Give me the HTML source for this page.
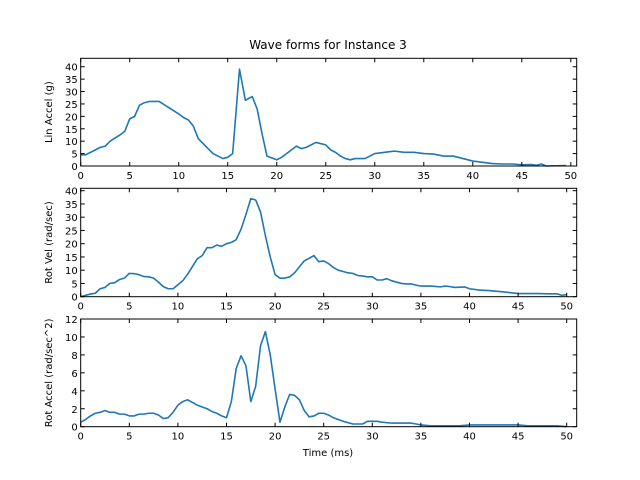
<!DOCTYPE html>
<html><head><meta charset="utf-8"><style>
body{margin:0;background:#fff}
svg{display:block;font-family:"DejaVu Sans","Liberation Sans",sans-serif}
</style></head><body>
<svg id="fig" width="640" height="480" viewBox="0 0 640 480">
<text x="328" y="49" font-size="12" text-anchor="middle">Wave forms for Instance 3</text>
<text x="328" y="456" font-size="10" text-anchor="middle">Time (ms)</text>
</svg>
<script>
const linT=[0,0.5,1,2,2.5,3,4,4.5,5,5.5,6,6.5,7,8,9,10,10.5,11,11.5,12,13,13.5,14,14.5,15,15.5,16.2,16.8,17.5,18,18.5,19,20,20.5,21,22,22.5,23,24,25,25.5,26,26.5,27,27.5,28,29,30,31,32,33,34,35,36,37,38,39,40,41,42,43,44,45,46,46.5,47,47.5,49.5];
const linV=[4.5,4.5,5.5,7.5,8,10,12.5,14,19,20,24.5,25.5,26,26,23.5,21,19.5,18.5,16,11,7,5,4,3,3.5,5,39,26.5,28,23,13,4,2.5,3.5,5,8,7,7.5,9.5,8.5,6.5,5.5,4,3,2.5,3,3,5,5.5,6,5.5,5.5,5,4.8,4,4,3,2,1.5,1,0.8,0.8,0.5,0.6,0.3,0.8,0,0.2];
const velT=[0,1,1.5,2,2.5,3,3.5,4,4.5,5,5.5,6,6.5,7,7.5,8,8.5,9,9.5,10,10.5,11,12,12.5,13,13.5,14,14.5,15,15.5,16,16.5,17,17.5,18,18.5,19,19.5,20,20.5,21,21.5,22,23,24,24.5,25,25.5,26,26.5,27,27.5,28,28.5,29,29.5,30,30.5,31,31.5,32,33,33.5,34,35,36,37,37.5,38,38.5,39.5,40,41,42,43,44,45,46,47,48,49,49.5,50];
const velV=[0,1,1.3,3,3.5,5,5.3,6.5,7,8.8,8.7,8.3,7.6,7.5,7,5.5,3.8,3,3,4.5,6,8.5,14.3,15.5,18.5,18.5,19.5,19,20,20.5,21.5,25.5,31,37,36.5,32,23,15,8.3,7,7,7.5,9,13.5,15.5,13.2,13.5,12.5,11,10,9.5,9,8.8,8,7.8,7.5,7.5,6.3,6.3,6.8,6,5,4.8,4.8,4,4,3.7,4,3.8,3.5,3.7,3,2.5,2.3,2,1.6,1.2,1.2,1.2,1.1,1.1,0.5,0.8];
const accT=[0,0.5,1,1.5,2,2.5,3,3.5,4,4.5,5,5.5,6,6.5,7,7.5,8,8.5,9,9.5,10,10.5,11,11.5,12,12.5,13,13.5,14,14.5,15,15.5,16,16.5,17,17.5,18,18.5,19,19.5,20,20.5,21,21.5,22,22.5,23,23.5,24,24.5,25,25.5,26,26.5,27,28,29,29.5,30,30.5,31,32,33,34,35,36,37,38,39,40,41,42,43,44,45,46,47,48,49,50];
const accV=[0.5,0.8,1.2,1.5,1.6,1.8,1.6,1.6,1.4,1.4,1.2,1.2,1.4,1.4,1.5,1.5,1.3,0.9,1.0,1.6,2.4,2.8,3.0,2.7,2.4,2.2,2.0,1.7,1.5,1.2,1.0,2.8,6.5,7.9,6.8,2.8,4.5,9,10.6,8,4.2,0.5,2.2,3.6,3.5,3.0,1.8,1.1,1.2,1.5,1.5,1.3,1.0,0.8,0.6,0.3,0.3,0.6,0.6,0.6,0.5,0.4,0.4,0.4,0.2,0.1,0.1,0.1,0.1,0.2,0.2,0.2,0.2,0.2,0.2,0.1,0.1,0.1,0.1,0];
const xTicks=[0,5,10,15,20,25,30,35,40,45,50];
const linTicks=[0,5,10,15,20,25,30,35,40];
const velTicks=[0,5,10,15,20,25,30,35,40];
const accTicks=[0,2,4,6,8,10,12];

const NS="http://www.w3.org/2000/svg";
const svg=document.getElementById('fig');
function mk(tag,attrs,parent){const e=document.createElementNS(NS,tag);for(const k in attrs)e.setAttribute(k,attrs[k]);(parent||svg).appendChild(e);return e;}
const L=80.7,R=576.7;
function panel(name,top,bot,xmax,ymax,T,V,yt,label){
  const g=mk('g',{});
  
  
  const sx=t=>L+(t/xmax)*(R-L);
  const sy=v=>bot-(v/ymax)*(bot-top);
  const d=T.map((t,i)=>(i?'L':'M')+sx(t).toFixed(2)+' '+sy(V[i]).toFixed(2)).join(' ');
  const p=mk('path',{d:d,fill:'none',stroke:'#1f77b4','stroke-width':1.6,'stroke-linejoin':'round'},g);
  
  
  const fr=mk('rect',{x:L,y:top,width:R-L,height:bot-top,fill:'none',stroke:'#000','stroke-width':1},g);
  
  
  xTicks.forEach(t=>{const x=sx(t);
    mk('line',{x1:x,x2:x,y1:bot,y2:bot-4,stroke:'#000'},g);
    mk('line',{x1:x,x2:x,y1:top,y2:top+4,stroke:'#000'},g);
    const tx=mk('text',{x:x,y:bot+13,'font-size':10,'text-anchor':'middle'},g);tx.textContent=t;
    
    
  });
  yt.forEach(v=>{const y=sy(v);
    mk('line',{x1:L,x2:L+4,y1:y,y2:y,stroke:'#000'},g);
    mk('line',{x1:R,x2:R-4,y1:y,y2:y,stroke:'#000'},g);
    const tx=mk('text',{x:L-3,y:y+4,'font-size':10,'text-anchor':'end'},g);tx.textContent=v;
    
    
  });
  const cy=(top+bot)/2;
  const yl=mk('text',{x:52,y:cy,'font-size':10,'text-anchor':'middle',transform:'rotate(-90 52 '+cy+')'},g);
  yl.textContent=label;
  
  
}
panel('lin-accel',58.3,166,50.6,43.4,linT,linV,linTicks,'Lin Accel (g)');
panel('rot-vel',188.3,296.7,51.03,40.9,velT,velV,velTicks,'Rot Vel (rad/sec)');
panel('rot-accel',319,426.7,51.03,12,accT,accV,accTicks,'Rot Accel (rad/sec^2)');
</script>
</body></html>
